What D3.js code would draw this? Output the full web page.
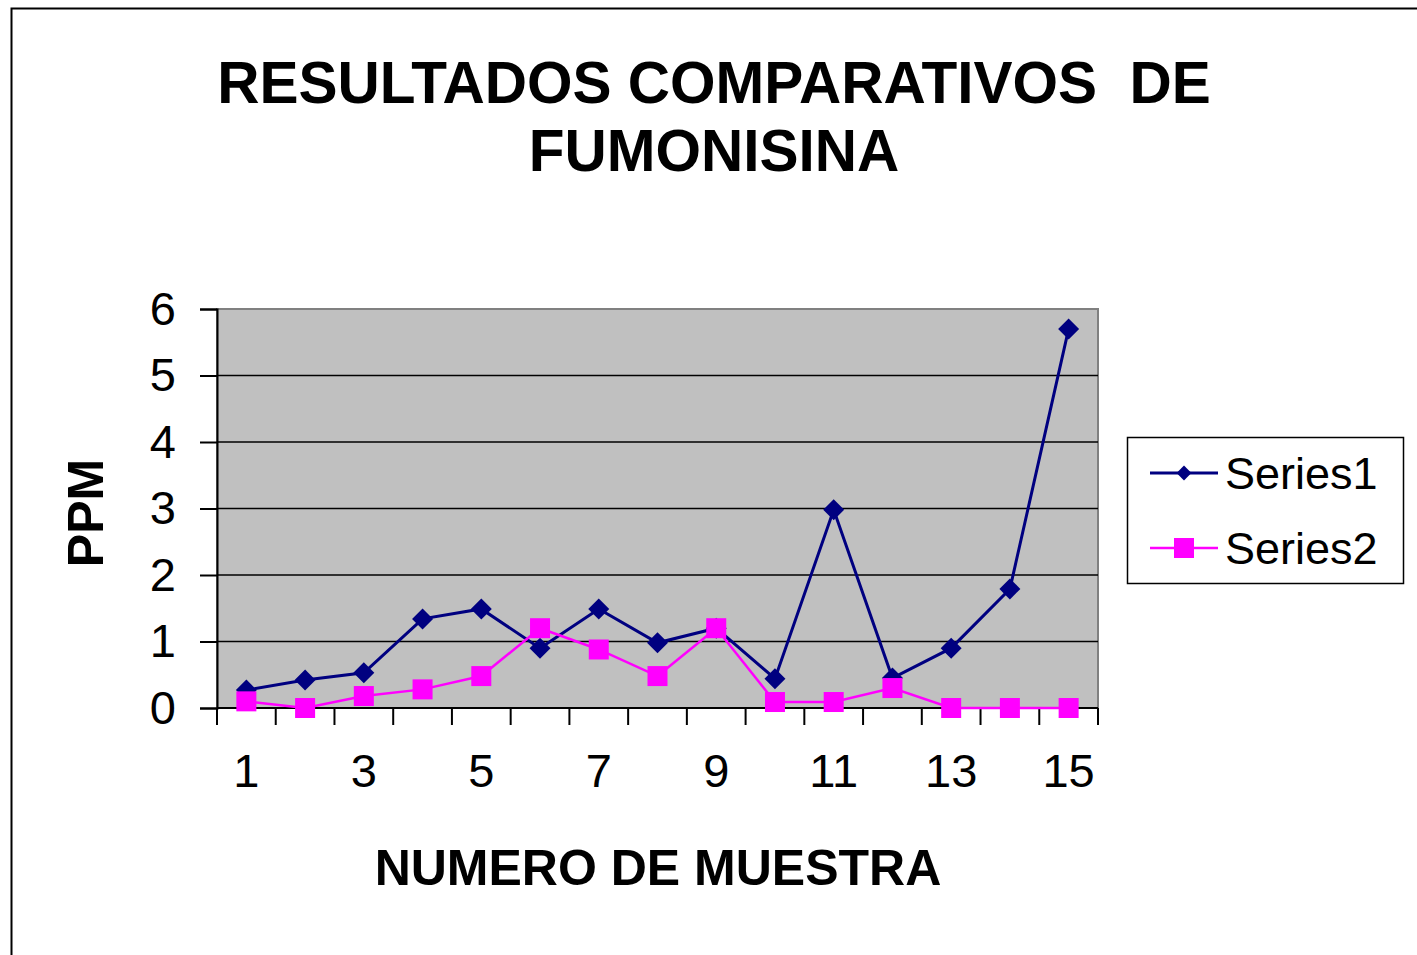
<!DOCTYPE html>
<html>
<head>
<meta charset="utf-8">
<script src="https://cdn.jsdelivr.net/npm/d3@7"></script>
<style>
  body { margin: 0; background: #fff; }
  text { font-family: "Liberation Sans", Arial, sans-serif; fill: #000; }
</style>
</head>
<body>
<svg id="chart" width="1417" height="955"></svg>
<script>
// data
const MUESTRAS = [1, 2, 3, 4, 5, 6, 7, 8, 9, 10, 11, 12, 13, 14, 15];
const SERIES1 = [0.27, 0.42, 0.53, 1.34, 1.49, 0.9, 1.49, 0.98, 1.2, 0.44, 2.98, 0.45, 0.9, 1.79, 5.7];
const SERIES2 = [0.1, 0, 0.18, 0.28, 0.48, 1.2, 0.88, 0.48, 1.2, 0.09, 0.09, 0.3, 0, 0, 0];
const Y_TICKS = [0, 1, 2, 3, 4, 5, 6];
const X_LABELS = [1, 3, 5, 7, 9, 11, 13, 15];
const SERIES_NAMES = ['Series1', 'Series2'];

const SVG = d3.select('#chart');

// outer chart frame (runs off the right and bottom edges)
SVG.append('rect')
    .attr('x', 11.5).attr('y', 8.5)
    .attr('width', 1500).attr('height', 1000)
    .attr('fill', '#fff')
    .attr('stroke', '#000')
    .attr('stroke-width', 2);

const PLOT = {left: 217, right: 1098, top: 309, bottom: 708};

const x = d3.scaleBand().domain(MUESTRAS).range([PLOT.left, PLOT.right]);
const xc = d => x(d) + x.bandwidth() / 2;
const y = d3.scaleLinear().domain([0, 6]).range([PLOT.bottom, PLOT.top]);

// plot area
SVG.append('rect')
    .attr('x', PLOT.left).attr('y', PLOT.top)
    .attr('width', PLOT.right - PLOT.left).attr('height', PLOT.bottom - PLOT.top)
    .attr('fill', '#c0c0c0')
    .attr('stroke', '#808080')
    .attr('stroke-width', 2);

// gridlines
SVG.selectAll('.grid')
    .data(Y_TICKS.slice(1, -1))
    .enter()
    .append('line')
    .attr('class', 'grid')
    .attr('x1', PLOT.left).attr('x2', PLOT.right)
    .attr('y1', d => y(d)).attr('y2', d => y(d))
    .attr('stroke', '#000')
    .attr('stroke-width', 1.5);

// y axis
const yAxis = SVG.append('g')
    .attr('transform', `translate(${PLOT.left},0)`)
    .call(d3.axisLeft(y).tickValues(Y_TICKS).tickSize(17).tickPadding(24).tickFormat(d3.format('d')));
yAxis.select('.domain').attr('stroke', '#000').attr('stroke-width', 2);
yAxis.selectAll('.tick line').attr('stroke', '#000').attr('stroke-width', 2);
yAxis.selectAll('.tick text').attr('font-size', 47).attr('font-family', '"Liberation Sans", Arial, sans-serif');

// x axis: tick marks at category boundaries, labels at odd categories
const edges = MUESTRAS.map(d => x(d)).concat([x(MUESTRAS[MUESTRAS.length - 1]) + x.bandwidth()]);
SVG.append('line')
    .attr('x1', PLOT.left).attr('x2', PLOT.right)
    .attr('y1', PLOT.bottom).attr('y2', PLOT.bottom)
    .attr('stroke', '#000').attr('stroke-width', 2);
SVG.selectAll('.xtick')
    .data(edges)
    .enter()
    .append('line')
    .attr('class', 'xtick')
    .attr('x1', d => d).attr('x2', d => d)
    .attr('y1', PLOT.bottom).attr('y2', PLOT.bottom + 17)
    .attr('stroke', '#000').attr('stroke-width', 2);
SVG.selectAll('.xlabel')
    .data(X_LABELS)
    .enter()
    .append('text')
    .attr('class', 'xlabel')
    .attr('x', d => xc(d))
    .attr('y', 787)
    .attr('text-anchor', 'middle')
    .attr('font-size', 47)
    .text(d => d);

// lines
const line = d3.line().x((d, i) => xc(MUESTRAS[i])).y(d => y(d));
SVG.append('path').datum(SERIES1)
    .attr('d', line).attr('fill', 'none')
    .attr('stroke', '#000080').attr('stroke-width', 3);
SVG.append('path').datum(SERIES2)
    .attr('d', line).attr('fill', 'none')
    .attr('stroke', '#ff00ff').attr('stroke-width', 2.5);

// markers
const diamond = d3.symbol().type(d3.symbolSquare).size(220);
SVG.selectAll('.s1-marker')
    .data(SERIES1)
    .enter()
    .append('path')
    .attr('class', 's1-marker')
    .attr('d', diamond)
    .attr('transform', (d, i) => `translate(${xc(MUESTRAS[i])},${y(d)}) rotate(45)`)
    .attr('fill', '#000080');
SVG.selectAll('.s2-marker')
    .data(SERIES2)
    .enter()
    .append('rect')
    .attr('class', 's2-marker')
    .attr('x', (d, i) => xc(MUESTRAS[i]) - 10)
    .attr('y', d => y(d) - 10)
    .attr('width', 20).attr('height', 20)
    .attr('fill', '#ff00ff');

// title
SVG.append('text')
    .attr('x', 714).attr('y', 103)
    .attr('text-anchor', 'middle')
    .attr('font-size', 58.5).attr('font-weight', 'bold')
    .style('white-space', 'pre')
    .text('RESULTADOS COMPARATIVOS  DE');
SVG.append('text')
    .attr('x', 714).attr('y', 171)
    .attr('text-anchor', 'middle')
    .attr('font-size', 58.5).attr('font-weight', 'bold')
    .text('FUMONISINA');

// axis titles
SVG.append('text')
    .attr('transform', 'translate(103,513) rotate(-90)')
    .attr('text-anchor', 'middle')
    .attr('font-size', 50).attr('font-weight', 'bold')
    .text('PPM');
SVG.append('text')
    .attr('x', 658).attr('y', 885)
    .attr('text-anchor', 'middle')
    .attr('font-size', 50).attr('font-weight', 'bold')
    .text('NUMERO DE MUESTRA');

// legend
const LEGEND = SVG.append('g');
LEGEND.append('rect')
    .attr('x', 1127.5).attr('y', 437.5)
    .attr('width', 276).attr('height', 146)
    .attr('fill', '#fff').attr('stroke', '#000').attr('stroke-width', 1.5);
const LEGEND_COLORS = ['#000080', '#ff00ff'];
const LEGEND_Y = [473, 548];
SERIES_NAMES.forEach((name, i) => {
    LEGEND.append('line')
        .attr('x1', 1150).attr('x2', 1218)
        .attr('y1', LEGEND_Y[i]).attr('y2', LEGEND_Y[i])
        .attr('stroke', LEGEND_COLORS[i]).attr('stroke-width', i === 0 ? 3 : 2.5);
    if (i === 0) {
        LEGEND.append('path')
            .attr('d', d3.symbol().type(d3.symbolSquare).size(110))
            .attr('transform', `translate(1184,${LEGEND_Y[i]}) rotate(45)`)
            .attr('fill', LEGEND_COLORS[i]);
    } else {
        LEGEND.append('rect')
            .attr('x', 1174).attr('y', LEGEND_Y[i] - 10)
            .attr('width', 20).attr('height', 20)
            .attr('fill', LEGEND_COLORS[i]);
    }
    LEGEND.append('text')
        .attr('x', 1225).attr('y', LEGEND_Y[i] + 16)
        .attr('font-size', 45)
        .text(name);
});
</script>
</body>
</html>
